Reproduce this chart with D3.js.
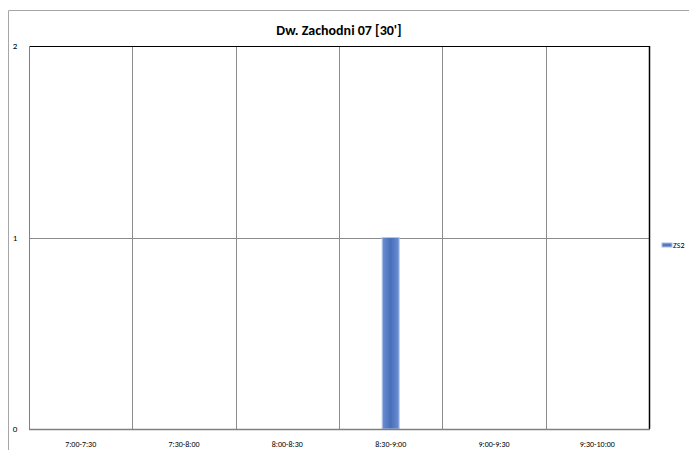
<!DOCTYPE html>
<html><head><meta charset="utf-8">
<script src="https://cdn.jsdelivr.net/npm/d3@7"></script>
<style>body{margin:0;background:#fff;}svg{display:block;}</style>
</head><body>
<script>
const categories = ["7:00-7:30","7:30-8:00","8:00-8:30","8:30-9:00","9:00-9:30","9:30-10:00"];
const seriesName = "ZS2";
const values = [0,0,0,1,0,0];
const yTicks = [0,1,2];
const title = "Dw. Zachodni 07 [30']";

const W = 689, H = 450;
const svg = d3.select("body").append("svg").attr("width", W).attr("height", H);
const font = "Calibri, Carlito, 'Liberation Sans', Arial, sans-serif";

// outer frame
svg.append("path").attr("d", `M8.5,${H} V10.5 H${W}`).attr("fill","none").attr("stroke","#a6a6a6").attr("stroke-width",1);

const m = {l:29, r:649, t:46, b:429};
const x = d3.scaleBand().domain(categories).range([m.l, m.r]);
const y = d3.scaleLinear().domain([0,2]).range([m.b, m.t]);

// horizontal gridlines
svg.append("g").selectAll("line").data(yTicks.filter(d=>d>0 && d<2)).join("line")
  .attr("x1", m.l).attr("x2", m.r).attr("y1", d=>Math.round(y(d))+0.5).attr("y2", d=>Math.round(y(d))+0.5)
  .attr("stroke","#8c8c8c");
// vertical gridlines between categories
svg.append("g").selectAll("line").data(categories.slice(1)).join("line")
  .attr("x1", d=>Math.round(x(d))+0.5).attr("x2", d=>Math.round(x(d))+0.5)
  .attr("y1", m.t).attr("y2", m.b).attr("stroke","#8c8c8c");

// bars
const defs = svg.append("defs");
const grad = defs.append("linearGradient").attr("id","bg").attr("x1",0).attr("x2",1).attr("y1",0).attr("y2",0);
grad.append("stop").attr("offset","0%").attr("stop-color","#6b8fd6");
grad.append("stop").attr("offset","50%").attr("stop-color","#4a6fb8");
grad.append("stop").attr("offset","100%").attr("stop-color","#6b8fd6");
const bw = 17;
svg.append("g").selectAll("rect").data(values.map((v,i)=>({c:categories[i],v}))).join("rect")
  .attr("x", d=>x(d.c)+x.bandwidth()/2 - bw/2)
  .attr("width", bw)
  .attr("y", d=>y(d.v))
  .attr("height", d=>y(0)-y(d.v))
  .attr("fill","url(#bg)")
  .attr("stroke","#b4c7ec").attr("stroke-width",1);

// plot border: top & right black, left & bottom grey
svg.append("line").attr("x1",m.l).attr("x2",m.r+0.5).attr("y1",m.t+0.5).attr("y2",m.t+0.5).attr("stroke","#000");
svg.append("line").attr("x1",m.r+0.5).attr("x2",m.r+0.5).attr("y1",m.t).attr("y2",m.b).attr("stroke","#000").attr("stroke-width",1.5);
svg.append("line").attr("x1",m.l+0.5).attr("x2",m.l+0.5).attr("y1",m.t).attr("y2",m.b+1).attr("stroke","#7f7f7f");
svg.append("line").attr("x1",m.l).attr("x2",m.r+1).attr("y1",m.b+0.5).attr("y2",m.b+0.5).attr("stroke","#7f7f7f").attr("stroke-width",1.5);

// y axis labels
svg.append("g").selectAll("text").data(yTicks).join("text")
  .attr("x", 15).attr("y", d=>y(d)+3).attr("text-anchor","middle")
  .attr("font-family",font).attr("font-size",9).attr("fill","#000").text(d=>d);

// x axis labels
svg.append("g").selectAll("text").data(categories).join("text")
  .attr("x", d=>x(d)+x.bandwidth()/2).attr("y", 447).attr("text-anchor","middle")
  .attr("font-family",font).attr("font-size",8).attr("fill","#000").text(d=>d);

// title
svg.append("text").attr("x", 339).attr("y", 35).attr("text-anchor","middle")
  .attr("font-family",font).attr("font-size",14).attr("font-weight","bold").text(title);

// legend
svg.append("rect").attr("x",662).attr("y",243).attr("width",10).attr("height",4).attr("fill","#5678c0").attr("stroke","#a9bde8");
svg.append("text").attr("x",673).attr("y",248).attr("font-family",font).attr("font-size",8).text(seriesName);
</script>
</body></html>
